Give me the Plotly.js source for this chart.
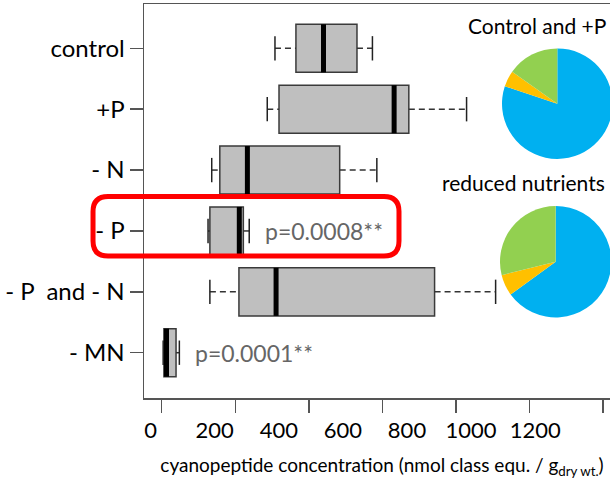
<!DOCTYPE html>
<html><head><meta charset="utf-8">
<script src="https://cdn.plot.ly/plotly-3.0.1.min.js"></script>
<style>html,body{margin:0;padding:0;overflow:hidden;background:#fff}#chart{width:640px;height:479px}</style>
</head><body><div id="chart"></div>
<script>
// ---- data ----
const categories = ['control', '+P', '- N', '- P', '- P\u00a0 and - N', '- MN'];
const lowerWhisker = [308, 287, 136, 126, 131, 4];
const q1Values     = [365, 319, 158, 131, 210, 6];
const medianValues = [440, 632, 233, 211, 311, 13];
const q3Values     = [531, 672, 484, 222, 742, 39];
const upperWhisker = [573, 829, 585, 238, 908, 48];
const xTickValues = [0, 200, 400, 600, 800, 1000, 1200];
const xTickLabels = ['0', '200', '400', '600', '800', '1000', '1200'];
const pValueCategory = [3, 5];
const pValueText = ['p=0.0008**', 'p=0.0001**'];
const pieLabels = ['class 1', 'class 2', 'class 3'];
const pieControlValues = [80.1, 4.7, 15.2];
const pieReducedValues = [65.0, 6.1, 28.9];
const pieTitles = ['Control and +P', 'reduced nutrients'];

// ---- build ----
const pos = categories.map((c, i) => i);
const FONT = 'Lato, "Open Sans", sans-serif';
const boxHalf = 0.395, capHalf = 0.2;

const whX = [], whY = [], capX = [], capY = [], medX = [], medY = [];
pos.forEach(i => {
  whX.push(lowerWhisker[i], q1Values[i], null, q3Values[i], upperWhisker[i], null);
  whY.push(i, i, null, i, i, null);
  capX.push(lowerWhisker[i], lowerWhisker[i], null, upperWhisker[i], upperWhisker[i], null);
  capY.push(i - capHalf, i + capHalf, null, i - capHalf, i + capHalf, null);
  medX.push(medianValues[i], medianValues[i], null);
  medY.push(i - boxHalf, i + boxHalf, null);
});

const data = [
  // invisible helper so the label axis (xaxis2) is drawn
  {type: 'scatter', mode: 'markers', x: xTickValues, y: xTickValues.map(() => -0.5), xaxis: 'x2', yaxis: 'y',
   marker: {opacity: 0, size: 1}, hoverinfo: 'skip', showlegend: false},
  {type: 'scatter', mode: 'lines', x: whX, y: whY, line: {color: '#333', width: 1.5, dash: '6px,4px'}, hoverinfo: 'skip', showlegend: false},
  {type: 'box', orientation: 'h', y: pos, q1: q1Values, median: medianValues, q3: q3Values,
   lowerfence: q1Values, upperfence: q3Values, width: 0.79, whiskerwidth: 0,
   fillcolor: '#bfbfbf', line: {color: '#3a3a3a', width: 1.5}, boxpoints: false, hoverinfo: 'skip', showlegend: false},
  {type: 'scatter', mode: 'lines', x: capX, y: capY, line: {color: '#222', width: 1.5}, hoverinfo: 'skip', showlegend: false},
  {type: 'scatter', mode: 'lines', x: medX, y: medY, line: {color: '#000', width: 5}, hoverinfo: 'skip', showlegend: false},
  {type: 'pie', values: pieControlValues, labels: pieLabels, sort: false, direction: 'clockwise', rotation: 0,
   marker: {colors: ['#00b0f0', '#ffc000', '#92d050'], line: {width: 0}}, textinfo: 'none', hoverinfo: 'skip',
   domain: {x: [0.7521, 0.9845], y: [0.6066, 0.8873]}, showlegend: false},
  {type: 'pie', values: pieReducedValues, labels: pieLabels, sort: false, direction: 'clockwise', rotation: 0,
   marker: {colors: ['#00b0f0', '#ffc000', '#92d050'], line: {width: 0}}, textinfo: 'none', hoverinfo: 'skip',
   domain: {x: [0.7479, 0.9819], y: [0.2046, 0.4873]}, showlegend: false}
];

const annotations = [];
pValueCategory.forEach((c, k) => {
  annotations.push({x: upperWhisker[c], y: c, xref: 'x', yref: 'y', text: pValueText[k], showarrow: false,
    xanchor: 'left', yanchor: 'middle', xshift: 14, font: {family: FONT, size: 23, color: '#666'}});
});
annotations.push({x: 0.8246, y: 0.9467, xref: 'paper', yref: 'paper', text: pieTitles[0], showarrow: false,
  xanchor: 'center', yanchor: 'middle', font: {family: FONT, size: 21, color: '#000'}});
annotations.push({x: 0.798, y: 0.547, xref: 'paper', yref: 'paper', text: pieTitles[1], showarrow: false,
  xanchor: 'center', yanchor: 'middle', font: {family: FONT, size: 21, color: '#000'}});

// red rounded highlight rectangle (paper coords)
const x0 = -0.1071, x1 = 0.5357, yb = 0.3604, yt = 0.5114, rx = 0.0315, ry = 0.0381;
const rectPath = `M ${x0 + rx},${yt} L ${x1 - rx},${yt} Q ${x1},${yt} ${x1},${yt - ry} L ${x1},${yb + ry} Q ${x1},${yb} ${x1 - rx},${yb} L ${x0 + rx},${yb} Q ${x0},${yb} ${x0},${yb + ry} L ${x0},${yt - ry} Q ${x0},${yt} ${x0 + rx},${yt} Z`;

const layout = {
  width: 640, height: 479,
  margin: {l: 144, r: 20, t: 4, b: 81},
  paper_bgcolor: '#fff', plot_bgcolor: '#fff',
  showlegend: false,
  font: {family: FONT, color: '#000'},
  xaxis: {range: [-48.13, 1246.2], tickvals: xTickValues, showticklabels: false,
    ticks: 'outside', ticklen: 13, tickwidth: 1.5, tickcolor: '#555',
    showline: true, mirror: true, linecolor: '#555', linewidth: 1.5, showgrid: false, zeroline: false,
    title: {text: 'cyanopeptide concentration (nmol class equ. / g<sub>dry wt.</sub>)', font: {family: FONT, size: 19, color: '#000'}, standoff: 48}},
  xaxis2: {overlaying: 'x', anchor: 'y', side: 'bottom', range: [-20.6, 1464.6], tickvals: xTickValues, ticktext: xTickLabels,
    ticks: 'outside', ticklen: 13, tickcolor: 'rgba(0,0,0,0)', showline: false, showgrid: false, zeroline: false,
    tickfont: {family: FONT, size: 22, color: '#000'}},
  yaxis: {range: [5.744, -0.728], tickvals: pos, ticktext: categories,
    ticks: 'outside', ticklen: 13, tickwidth: 1.5, tickcolor: '#555',
    showline: true, mirror: true, linecolor: '#555', linewidth: 1.5, showgrid: false, zeroline: false,
    tickfont: {family: FONT, size: 24, color: '#000'}},
  annotations: annotations,
  shapes: [{type: 'path', xref: 'paper', yref: 'paper', path: rectPath, line: {color: '#ff0000', width: 5}, fillcolor: 'rgba(0,0,0,0)', layer: 'above'}]
};

Plotly.newPlot('chart', data, layout, {staticPlot: true, displayModeBar: false});
</script></body></html>
